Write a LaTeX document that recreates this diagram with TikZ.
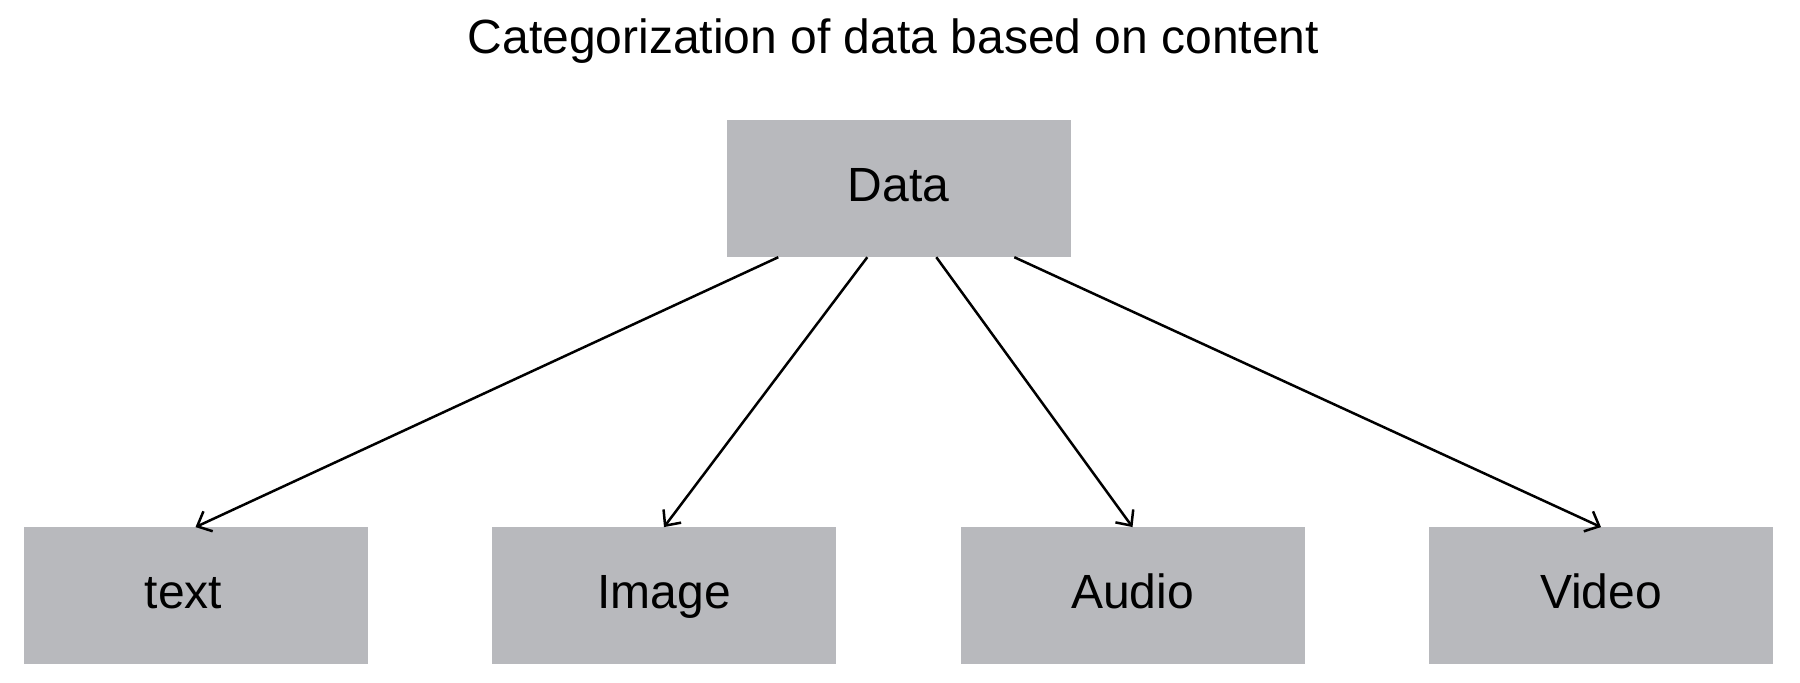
\documentclass[tikz,border=0pt]{standalone}
\usepackage{fontspec}
\setmainfont{Liberation Sans}
\usetikzlibrary{arrows.meta}
\definecolor{boxgray}{RGB}{184,185,189}
\begin{document}
\begin{tikzpicture}[x=1pt,y=-1pt,
  catbox/.style={fill=boxgray, draw=none, inner sep=0pt, minimum width=344pt, minimum height=137pt,
    text height=35pt, text depth=10pt, font=\fontsize{48}{58}\selectfont},
  link/.style={line width=2.5pt, -{Straight Barb[length=12pt,width=22pt]}}]
\useasboundingbox (0,0) rectangle (1800,683);
\node[anchor=base, font=\fontsize{48}{58}\selectfont] (title) at (893.5,53) {Categorization of data based on content};
\node[catbox] (data) at (898.5,188.5) {Data};
\node[catbox] (txt) at (195.5,595.8) {\hspace*{-24pt}text};
\node[catbox] (img) at (664,595.8) {Image};
\node[catbox] (aud) at (1132.5,595.8) {Audio};
\node[catbox] (vid) at (1601,595.8) {Video};
\draw[link] ([xshift=52pt]data.south west) -- (txt.north);
\draw[link] ([xshift=141pt]data.south west) -- (img.north);
\draw[link] ([xshift=210pt]data.south west) -- (aud.north);
\draw[link] ([xshift=288pt]data.south west) -- (vid.north);
\end{tikzpicture}
\end{document}
